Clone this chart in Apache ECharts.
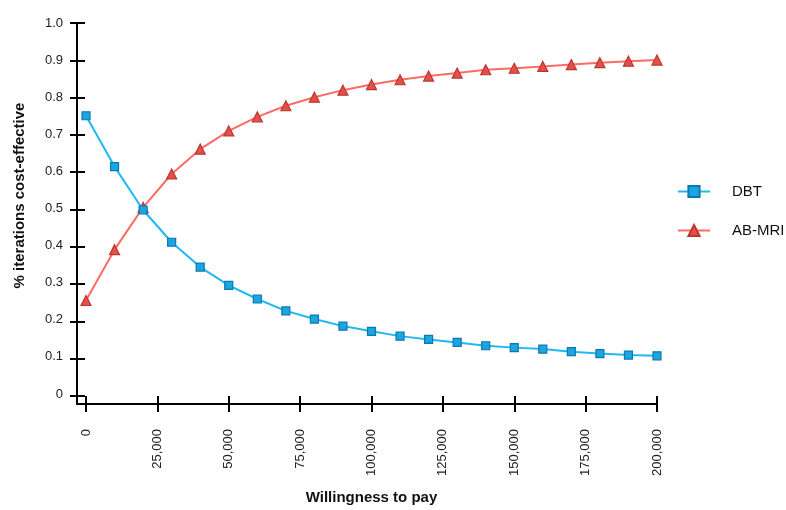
<!DOCTYPE html>
<html>
<head>
<meta charset="utf-8">
<script src="https://cdn.jsdelivr.net/npm/echarts@6/dist/echarts.min.js"></script>
<style>html,body{margin:0;padding:0;background:#fff}#c{width:786px;height:510px}</style>
</head>
<body>
<div id="c"></div>
<script>
const wtp = [0,10000,20000,30000,40000,50000,60000,70000,80000,90000,100000,110000,120000,130000,140000,150000,160000,170000,180000,190000,200000];
const dbt = [0.75,0.613,0.496,0.409,0.342,0.293,0.256,0.224,0.202,0.183,0.169,0.156,0.147,0.139,0.130,0.125,0.121,0.114,0.109,0.105,0.103];
const abmri = [0.252,0.389,0.503,0.593,0.66,0.709,0.747,0.777,0.8,0.819,0.834,0.847,0.857,0.865,0.874,0.878,0.883,0.888,0.893,0.897,0.9];
const seriesNames = ['DBT','AB-MRI'];
const xTitle = 'Willingness to pay';
const yTitle = '% iterations cost-effective';

const font = 'Liberation Sans, Arial, sans-serif';
const chart = echarts.init(document.getElementById('c'));
const axisLineStyle = {color:'#000', width:2};
const gridBox = {left:86, right:129, top:23, bottom:114};
const frameBox = {left:77, right:129, top:23, bottom:106};
const hidden = {axisLine:{show:false, onZero:false}, axisTick:{show:false}, axisLabel:{show:false}, splitLine:{show:false}};
chart.setOption({
  animation:false,
  grid:[Object.assign({}, gridBox), Object.assign({}, gridBox), Object.assign({}, frameBox)],
  legend:{
    orient:'vertical', left:677, top:184, padding:0, itemWidth:32, itemHeight:14, itemGap:24,
    data:seriesNames,
    textStyle:{fontFamily:font, fontSize:15, color:'#111', padding:[0,0,0,17]}
  },
  xAxis:[{
    gridIndex:0, type:'value', min:0, max:200000, interval:25000, offset:8,
    name:xTitle, nameLocation:'middle', nameGap:88,
    nameTextStyle:{fontFamily:font, fontSize:15, fontWeight:'bold', color:'#111'},
    axisLine:{show:false, onZero:false}, axisTick:{show:false},
    axisLabel:{rotate:90, margin:27, fontFamily:font, fontSize:13, color:'#222',
      formatter:v=>v.toLocaleString('en-US')},
    splitLine:{show:false}
  },Object.assign({}, hidden, {
    gridIndex:1, type:'value', min:0, max:200000, interval:25000, offset:0, position:'bottom',
    axisTick:{show:true, length:16, lineStyle:axisLineStyle}
  }),Object.assign({}, hidden, {
    gridIndex:2, type:'value', min:0, max:1, position:'bottom',
    axisLine:{show:true, onZero:false, lineStyle:axisLineStyle}
  })],
  yAxis:[{
    gridIndex:0, type:'value', min:0, max:1, interval:0.1, offset:9,
    name:yTitle, nameLocation:'middle', nameGap:50,
    nameTextStyle:{fontFamily:font, fontSize:15, fontWeight:'bold', color:'#111', padding:[0,0,0,26]},
    axisLine:{show:false, onZero:false}, axisTick:{show:false},
    axisLabel:{margin:14, fontFamily:font, fontSize:13, color:'#222',
      formatter:v=>v===0?'0':v.toFixed(1)},
    splitLine:{show:false}
  },Object.assign({}, hidden, {
    gridIndex:1, type:'value', min:0, max:1, interval:0.1, offset:1, position:'left',
    axisTick:{show:true, length:15, lineStyle:axisLineStyle}
  }),Object.assign({}, hidden, {
    gridIndex:2, type:'value', min:0, max:1, position:'left',
    axisLine:{show:true, onZero:false, lineStyle:axisLineStyle}
  })],
  series:[{
    name:seriesNames[0], type:'line', xAxisIndex:0, yAxisIndex:0, data:wtp.map((x,i)=>[x,dbt[i]]),
    symbol:'rect', symbolSize:8,
    lineStyle:{color:'#1FB8F5', width:2},
    itemStyle:{color:'#1AA6E2', borderColor:'#0E78AE', borderWidth:1.2},
    z:3
  },{
    name:seriesNames[1], type:'line', xAxisIndex:0, yAxisIndex:0, data:wtp.map((x,i)=>[x,abmri[i]]),
    symbol:'triangle', symbolSize:10,
    lineStyle:{color:'#FF6B63', width:2},
    itemStyle:{color:'#E0514B', borderColor:'#C0362E', borderWidth:1.2},
    z:2
  }]
});
</script>
</body>
</html>
